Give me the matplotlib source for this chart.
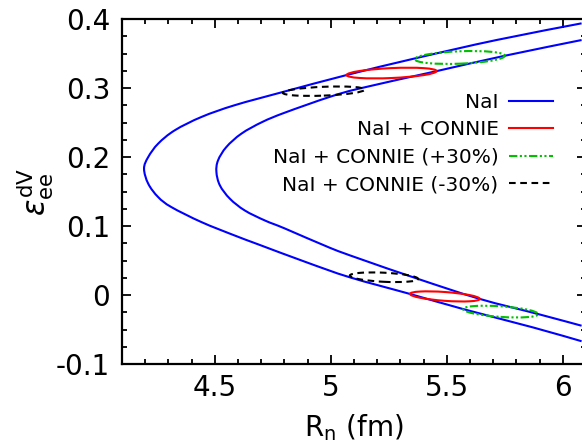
import matplotlib
matplotlib.use("Agg")
import matplotlib.pyplot as plt
from matplotlib.patches import Ellipse, PathPatch
from matplotlib.path import Path
from matplotlib.lines import Line2D
from matplotlib.transforms import Affine2D
from matplotlib.ticker import MultipleLocator, FuncFormatter

plt.rcParams['font.family'] = ['DejaVu Sans']
plt.rcParams['mathtext.fontset'] = 'dejavusans'
plt.rcParams['axes.unicode_minus'] = False

# ---- data ----
# NaI band: outer boundary (upper branch -> vertex -> lower branch)
outer_rn = [6.081, 5.714, 5.362, 5.068, 4.794, 4.586, 4.443, 4.328, 4.256, 4.213, 4.195,
            4.213, 4.256, 4.313, 4.443, 4.586, 4.687, 4.895, 5.082, 5.341, 5.570, 5.872, 6.081]
outer_eps = [0.394, 0.3698, 0.3431, 0.319, 0.2945, 0.2753, 0.2583, 0.239, 0.2196, 0.2001, 0.1833,
             0.1615, 0.142, 0.1275, 0.1057, 0.0863, 0.0735, 0.0475, 0.0257, 0.0016, -0.0203, -0.047, -0.067]
# NaI band: inner boundary
inner_rn = [6.081, 5.750, 5.456, 5.125, 4.996, 4.802, 4.705, 4.615, 4.550, 4.514, 4.507,
            4.522, 4.565, 4.629, 4.716, 4.802, 4.996, 5.125, 5.376, 5.642, 5.894, 6.081]
inner_eps = [0.3698, 0.347, 0.3247, 0.2996, 0.2874, 0.2645, 0.251, 0.2341, 0.2147, 0.1953, 0.1784,
             0.159, 0.1397, 0.1227, 0.1081, 0.0965, 0.0685, 0.0525, 0.0234, -0.0056, -0.0276, -0.0445]

# Combined NaI + CONNIE contours: centre, half-width (Rn), half-thickness (eps), tilt
contour_labels = ['NaI + CONNIE', 'NaI + CONNIE (+30%)', 'NaI + CONNIE (-30%)']
# upper island / lower island for each label
c_rn = [[5.262, 5.4915], [5.556, 5.732], [4.970, 5.229]]
c_eps = [[0.3219, -0.002], [0.3445, -0.024], [0.2956, 0.0258]]
c_halfw = [[0.194, 0.1505], [0.194, 0.162], [0.1765, 0.147]]
c_halfh = [[0.0072, 0.0064], [0.0090, 0.0077], [0.0064, 0.0066]]
c_tilt = [[0.015, -0.024], [0.013, -0.0225], [0.0136, -0.0163]]

xticks = [4.5, 5.0, 5.5, 6.0]
yticks = [-0.1, 0.0, 0.1, 0.2, 0.3, 0.4]

# ---- styles ----
blue = '#0000ff'
c_colors = ['#ff0000', '#00c000', '#000000']
c_styles = ['-', (0, (4, 1.2, 1, 1.2, 1, 1.2)), (0, (3.2, 2.2))]
lw = 1.5


def smooth_path(xs, ys):
    """Smooth (Catmull-Rom style Bezier) path through the read points."""
    pts = list(zip(xs, ys))
    verts = [pts[0]]
    codes = [Path.MOVETO]
    n = len(pts)
    for i in range(n - 1):
        p0 = pts[i - 1] if i > 0 else pts[i]
        p1 = pts[i]
        p2 = pts[i + 1]
        p3 = pts[i + 2] if i + 2 < n else pts[i + 1]
        c1 = (p1[0] + (p2[0] - p0[0]) / 6.0, p1[1] + (p2[1] - p0[1]) / 6.0)
        c2 = (p2[0] - (p3[0] - p1[0]) / 6.0, p2[1] - (p3[1] - p1[1]) / 6.0)
        verts += [c1, c2, p2]
        codes += [Path.CURVE4] * 3
    return Path(verts, codes)


fig = plt.figure(figsize=(5.82, 4.43), dpi=100)
ax = fig.add_axes([122 / 582, 1 - 364 / 443, 464 / 582, (364 - 19.2) / 443])

for xs, ys in [(outer_rn, outer_eps), (inner_rn, inner_eps)]:
    ax.add_patch(PathPatch(smooth_path(xs, ys), fill=False, edgecolor=blue, lw=lw, zorder=3))

for i in range(len(contour_labels)):
    for j in range(2):
        a = c_halfw[i][j]
        b = c_halfh[i][j]
        s = c_tilt[i][j]
        tr = Affine2D([[a, 0, c_rn[i][j]], [s * a, b, c_eps[i][j]], [0, 0, 1]]) + ax.transData
        e = Ellipse((0, 0), 2, 2, fill=False, edgecolor=c_colors[i], lw=lw,
                    linestyle=c_styles[i], transform=tr, zorder=4)
        ax.add_patch(e)

ax.set_xlim(4.1, 6.1)
ax.set_ylim(-0.1, 0.4)
ax.set_xticks(xticks)
ax.set_yticks(yticks)
ax.xaxis.set_minor_locator(MultipleLocator(0.1))
ax.yaxis.set_minor_locator(MultipleLocator(0.025))
ax.xaxis.set_major_formatter(FuncFormatter(lambda v, p: '%g' % round(v, 3)))
ax.yaxis.set_major_formatter(FuncFormatter(lambda v, p: '%g' % round(v, 3)))

for sp in ax.spines.values():
    sp.set_linewidth(1.6)
ax.tick_params(which='both', direction='in', top=True, right=True, width=1.3)
ax.tick_params(which='major', length=6.5, labelsize=20)
ax.tick_params(axis='y', which='major', pad=8.5)
ax.tick_params(axis='x', which='major', pad=7)
ax.tick_params(which='minor', length=3.5)

ax.set_xlabel(r'R$_\mathrm{n}$ (fm)', fontsize=20, labelpad=7.5)
ax.set_ylabel(r'$\varepsilon^{\mathrm{dV}}_{\mathrm{ee}}$', fontsize=22, labelpad=0)

handles = [Line2D([], [], color=blue, lw=lw)]
for i in range(len(contour_labels)):
    handles.append(Line2D([], [], color=c_colors[i], lw=lw, linestyle=c_styles[i]))
labels = ['NaI'] + contour_labels
leg = ax.legend(handles, labels, loc='upper right', bbox_to_anchor=(553 / 582, 1 - 93 / 443),
                bbox_transform=fig.transFigure, frameon=False, markerfirst=False,
                fontsize=14.5, handlelength=2.2, handletextpad=0.5, labelspacing=0.42,
                borderpad=0, borderaxespad=0)

fig.savefig('out.png', dpi=100)
